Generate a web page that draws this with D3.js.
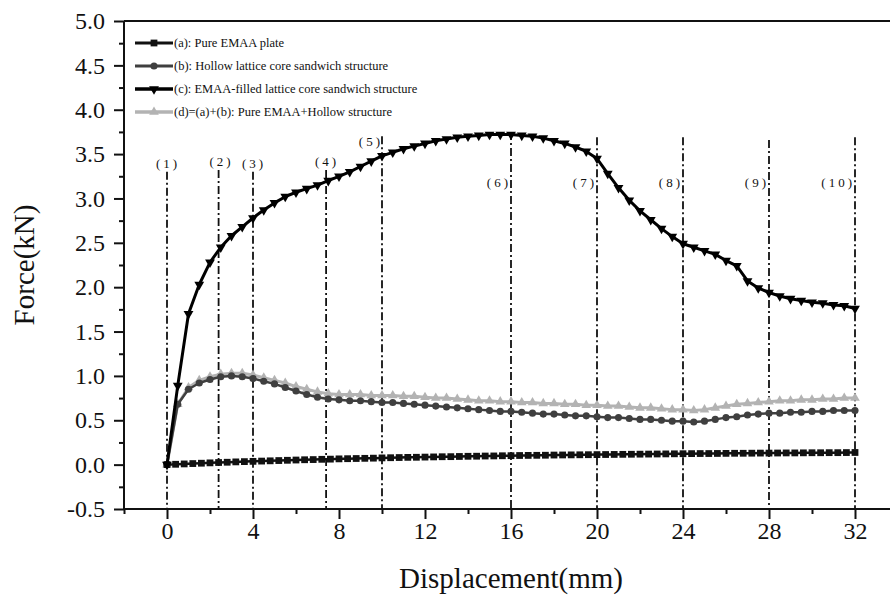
<!DOCTYPE html>
<html>
<head>
<meta charset="utf-8">
<script src="https://cdn.jsdelivr.net/npm/d3@7/dist/d3.min.js"></script>
<style>
  body { margin: 0; background: #fff; }
  svg text { font-family: "Liberation Serif", "Times New Roman", serif; fill: #111; }
</style>
</head>
<body>
<div id="chart-container"></div>
<script>
(function() {
'use strict';

// ---- data ----
const xTicks = [0, 4, 8, 12, 16, 20, 24, 28, 32];
const xMinorTicks = [-2, 2, 6, 10, 14, 18, 22, 26, 30];
const yTicks = [-0.5, 0.0, 0.5, 1.0, 1.5, 2.0, 2.5, 3.0, 3.5, 4.0, 4.5, 5.0];
const yMinorTicks = [-0.25, 0.25, 0.75, 1.25, 1.75, 2.25, 2.75, 3.25, 3.75, 4.25, 4.75];

const seriesNames = [
  "(a): Pure EMAA plate",
  "(b): Hollow lattice core sandwich structure",
  "(c): EMAA-filled lattice core sandwich structure",
  "(d)=(a)+(b): Pure EMAA+Hollow structure"
];

// (a) sampled every 0.4 mm
const dispA = [0,0.4,0.8,1.2,1.6,2.0,2.4,2.8,3.2,3.6,4.0,4.4,4.8,5.2,5.6,6.0,6.4,6.8,7.2,7.6,
  8.0,8.4,8.8,9.2,9.6,10.0,10.4,10.8,11.2,11.6,12.0,12.4,12.8,13.2,13.6,14.0,14.4,14.8,15.2,15.6,
  16.0,16.4,16.8,17.2,17.6,18.0,18.4,18.8,19.2,19.6,20.0,20.4,20.8,21.2,21.6,22.0,22.4,22.8,23.2,23.6,
  24.0,24.4,24.8,25.2,25.6,26.0,26.4,26.8,27.2,27.6,28.0,28.4,28.8,29.2,29.6,30.0,30.4,30.8,31.2,31.6,32.0];
const forceA = [0,0.004,0.008,0.012,0.016,0.020,0.024,0.027,0.031,0.034,0.037,0.040,0.043,0.046,0.049,0.052,0.055,0.057,0.060,0.062,
  0.065,0.067,0.069,0.071,0.073,0.076,0.078,0.080,0.082,0.083,0.085,0.087,0.089,0.090,0.092,0.094,0.095,0.097,0.098,0.100,
  0.101,0.103,0.104,0.105,0.106,0.108,0.109,0.110,0.111,0.112,0.113,0.114,0.115,0.116,0.117,0.118,0.119,0.120,0.121,0.122,
  0.123,0.124,0.125,0.125,0.126,0.127,0.128,0.128,0.129,0.130,0.130,0.131,0.132,0.132,0.133,0.134,0.134,0.135,0.135,0.136,0.137];

// (b), (c), (d) sampled every 0.5 mm
const dispBCD = [0,0.5,1,1.5,2,2.5,3,3.5,4,4.5,5,5.5,6,6.5,7,7.5,8,8.5,9,9.5,10,10.5,11,11.5,12,12.5,13,13.5,14,14.5,15,15.5,
  16,16.5,17,17.5,18,18.5,19,19.5,20,20.5,21,21.5,22,22.5,23,23.5,24,24.5,25,25.5,26,26.5,27,27.5,28,28.5,29,29.5,30,30.5,31,31.5,32];
const forceB = [0,0.68,0.85,0.92,0.96,0.99,1.00,0.99,0.97,0.94,0.91,0.87,0.83,0.79,0.76,0.74,0.73,0.72,0.72,0.71,0.70,0.70,0.69,0.68,
  0.67,0.66,0.65,0.64,0.63,0.62,0.61,0.60,0.60,0.59,0.58,0.57,0.57,0.56,0.55,0.55,0.54,0.53,0.53,0.52,0.51,0.51,0.50,0.49,
  0.49,0.48,0.49,0.51,0.53,0.54,0.56,0.57,0.58,0.58,0.59,0.59,0.60,0.60,0.61,0.61,0.61];
const forceC = [0,0.89,1.70,2.03,2.28,2.45,2.58,2.68,2.78,2.87,2.95,3.02,3.07,3.11,3.15,3.20,3.25,3.30,3.36,3.42,3.48,3.52,3.56,3.59,
  3.62,3.65,3.67,3.69,3.70,3.71,3.72,3.72,3.72,3.71,3.70,3.68,3.65,3.62,3.58,3.53,3.45,3.28,3.12,2.98,2.86,2.76,2.66,2.57,
  2.49,2.45,2.41,2.37,2.30,2.24,2.07,1.99,1.94,1.90,1.87,1.85,1.83,1.82,1.80,1.79,1.76];
const forceD = [0,0.68,0.87,0.95,0.99,1.02,1.03,1.03,1.01,0.98,0.95,0.92,0.88,0.85,0.82,0.80,0.79,0.79,0.79,0.78,0.78,0.78,0.77,0.77,
  0.76,0.75,0.75,0.74,0.73,0.72,0.72,0.71,0.71,0.70,0.70,0.69,0.69,0.68,0.68,0.67,0.67,0.66,0.66,0.65,0.64,0.64,0.63,0.62,
  0.62,0.61,0.62,0.64,0.66,0.68,0.69,0.70,0.71,0.72,0.72,0.73,0.73,0.74,0.74,0.75,0.75];

// stage markers
const stageX = [0, 2.4, 4, 7.4, 10, 16, 20, 24, 28, 32];
const stageLabels = ["(1)","(2)","(3)","(4)","(5)","(6)","(7)","(8)","(9)","(10)"];

// ---- layout ----
const W = 890;
const H = 605;
const LEFT = 124;
const RIGHT = 855;
const TOP = 21;
const BOTTOM = 509;

// top of each stage line (kN) and where its label sits
const stageTop = [3.30, 3.32, 3.30, 3.32, 3.70, 3.75, 3.69, 3.69, 3.66, 3.69];
const stageLabelPos = ["above","above","above","above","left5","left","left","left","left","left"];

const styles = [
  { color: "#111", width: 2.5, symbol: d3.symbolSquare, size: 46, rotate: 0 },
  { color: "#3f3f3f", width: 2.5, symbol: d3.symbolCircle, size: 40, rotate: 0 },
  { color: "#000", width: 3, symbol: d3.symbolTriangle, size: 42, rotate: 180 },
  { color: "#b3b3b3", width: 3, symbol: d3.symbolTriangle, size: 40, rotate: 0 }
];

const xScale = d3.scaleLinear().domain([-2, 32]).range([LEFT, RIGHT]);
const yScale = d3.scaleLinear().domain([-0.5, 5.0]).range([BOTTOM, TOP]);

const svg = d3.select("#chart-container")
  .append("svg")
    .attr("width", W)
    .attr("height", H);

// frame lines (top and bottom run off the right edge)
svg.append("line")
  .attr("x1", LEFT).attr("x2", W).attr("y1", TOP).attr("y2", TOP)
  .attr("stroke", "#111").attr("stroke-width", 2);
svg.append("line")
  .attr("x1", LEFT).attr("x2", W).attr("y1", BOTTOM).attr("y2", BOTTOM)
  .attr("stroke", "#111").attr("stroke-width", 2);
svg.append("line")
  .attr("x1", LEFT).attr("x2", LEFT).attr("y1", TOP).attr("y2", BOTTOM)
  .attr("stroke", "#111").attr("stroke-width", 2);

// axes
const xAxis = d3.axisBottom(xScale).tickValues(xTicks).tickSize(10).tickPadding(3)
  .tickFormat((d) => String(d));
const xMinor = d3.axisBottom(xScale).tickValues(xMinorTicks).tickSize(5).tickFormat("");
const yAxis = d3.axisLeft(yScale).tickValues(yTicks).tickSize(10).tickPadding(9)
  .tickFormat((d) => d.toFixed(1));
const yMinor = d3.axisLeft(yScale).tickValues(yMinorTicks).tickSize(5).tickFormat("");

function styleAxis(g) {
  g.select(".domain").remove();
  g.selectAll(".tick line").attr("stroke", "#111").attr("stroke-width", 2);
  g.selectAll(".tick text")
    .attr("fill", "#111")
    .style("font-family", '"Liberation Serif", "Times New Roman", serif')
    .style("font-size", "24px");
}

svg.append("g").attr("transform", `translate(0, ${BOTTOM})`).call(xAxis).call(styleAxis);
svg.append("g").attr("transform", `translate(0, ${BOTTOM})`).call(xMinor).call(styleAxis);
svg.append("g").attr("transform", `translate(${LEFT}, 0)`).call(yAxis).call(styleAxis);
svg.append("g").attr("transform", `translate(${LEFT}, 0)`).call(yMinor).call(styleAxis);

// axis titles
svg.append("text")
  .attr("x", xScale(16))
  .attr("y", 588)
  .attr("text-anchor", "middle")
  .style("font-size", "29px")
  .text("Displacement(mm)");

svg.append("text")
  .attr("transform", `translate(34, ${yScale(2.25)}) rotate(-90)`)
  .attr("text-anchor", "middle")
  .style("font-size", "29px")
  .text("Force(kN)");

// stage lines
const stages = svg.append("g").attr("id", "stages");
stageX.forEach(function(sx, i) {
  stages.append("line")
    .attr("x1", xScale(sx)).attr("x2", xScale(sx))
    .attr("y1", yScale(stageTop[i])).attr("y2", BOTTOM)
    .attr("stroke", "#111")
    .attr("stroke-width", 1.8)
    .attr("stroke-dasharray", "8,3,2,3");

  let lx, ly, anchor;
  if (stageLabelPos[i] === "above") {
    lx = xScale(sx) + (i === 1 ? 3 : 1);
    ly = yScale(stageTop[i]) - 4;
    anchor = "middle";
  } else if (stageLabelPos[i] === "left5") {
    lx = xScale(sx) + 1;
    ly = yScale(stageTop[i]) + 10;
    anchor = "end";
  } else {
    lx = xScale(sx);
    ly = 187;
    anchor = "end";
  }
  stages.append("text")
    .attr("x", lx)
    .attr("y", ly)
    .attr("text-anchor", anchor)
    .attr("fill", "#222")
    .style("font-size", "13px")
    .style("letter-spacing", "3px")
    .text(stageLabels[i]);
});

// series
const series = [
  { x: dispA, y: forceA },
  { x: dispBCD, y: forceB },
  { x: dispBCD, y: forceC },
  { x: dispBCD, y: forceD }
];

const line = d3.line()
  .x((d) => xScale(d[0]))
  .y((d) => yScale(d[1]));

const drawOrder = [3, 1, 0, 2];
drawOrder.forEach(function(k) {
  const pts = series[k].x.map((x, i) => [x, series[k].y[i]]);
  const st = styles[k];
  const g = svg.append("g").attr("class", "series-" + k);

  g.append("path")
    .datum(pts)
    .attr("d", line)
    .attr("fill", "none")
    .attr("stroke", st.color)
    .attr("stroke-width", st.width)
    .attr("stroke-linejoin", "round");

  g.selectAll("path.marker")
    .data(pts)
    .enter()
    .append("path")
      .attr("class", "marker")
      .attr("d", d3.symbol().type(st.symbol).size(st.size))
      .attr("transform", (d) => `translate(${xScale(d[0])}, ${yScale(d[1])}) rotate(${st.rotate})`)
      .attr("fill", st.color);
});

// legend
const legend = svg.append("g").attr("id", "legend");
seriesNames.forEach(function(name, i) {
  const y = 43 + i * 23;
  const st = styles[i];
  legend.append("line")
    .attr("x1", 135).attr("x2", 173).attr("y1", y).attr("y2", y)
    .attr("stroke", st.color).attr("stroke-width", st.width + 0.5);
  legend.append("path")
    .attr("d", d3.symbol().type(st.symbol).size(st.size))
    .attr("transform", `translate(154, ${y}) rotate(${st.rotate})`)
    .attr("fill", st.color);
  legend.append("text")
    .attr("x", 174)
    .attr("y", y + 4)
    .style("font-size", "12.5px")
    .text(name);
});

})()
</script>
</body>
</html>
